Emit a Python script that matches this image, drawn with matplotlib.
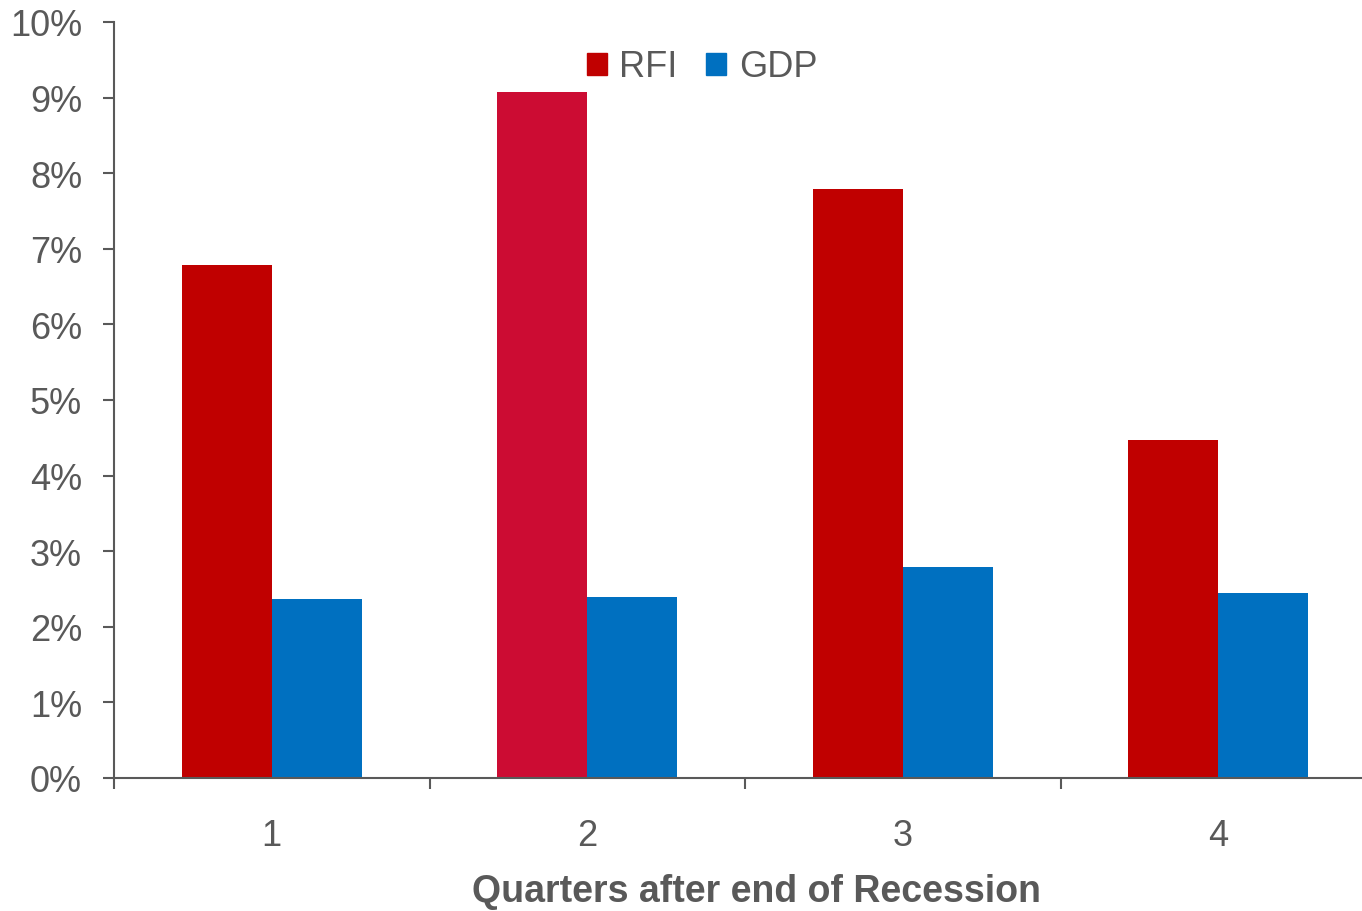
import matplotlib
matplotlib.use("Agg")
import matplotlib.pyplot as plt
import numpy as np
from matplotlib.patches import Patch

quarters = ["1", "2", "3", "4"]
rfi = [6.79, 9.07, 7.79, 4.47]
gdp = [2.37, 2.39, 2.79, 2.45]
rfi_colors = ["#C00000", "#CC0C33", "#C00000", "#C00000"]
gdp_color = "#0070C0"
grey = "#595959"

plt.rcParams['font.family'] = ['Liberation Sans', 'DejaVu Sans']

fig = plt.figure(figsize=(13.62, 9.12), dpi=100)
W, H = 1362, 912
ax = fig.add_axes([114 / W, (H - 779) / H, (1376 - 114) / W, (779 - 23) / H])

x = np.arange(len(quarters))
w = 0.285
ax.bar(x - w / 2, rfi, w, color=rfi_colors, label="RFI")
ax.bar(x + w / 2, gdp, w, color=gdp_color, label="GDP")

ax.set_xlim(-0.5, len(quarters) - 0.5)
ax.set_ylim(0, 10)
ax.set_yticks(range(0, 11))
ax.set_yticklabels([f"{v}%" for v in range(0, 11)])
ax.set_xticks(x)
ax.set_xticklabels(quarters)
ax.set_xticks(np.arange(-0.5, len(quarters), 1), minor=True)

for s in ["top", "right"]:
    ax.spines[s].set_visible(False)
for s in ["left", "bottom"]:
    ax.spines[s].set_color(grey)
    ax.spines[s].set_linewidth(1.5)

ax.tick_params(axis="y", length=8, width=1.5, color=grey, labelcolor=grey,
               labelsize=26, pad=15)
ax.tick_params(axis="x", which="major", length=0, labelcolor=grey,
               labelsize=26, pad=29)
ax.tick_params(axis="x", which="minor", length=8, width=1.5, color=grey)

ax.set_xlabel("Quarters after end of Recession", fontsize=27, fontweight="bold",
              color=grey)
ax.xaxis.label.set_va("center")
ax.xaxis.set_label_coords((757 - 114) / (1376 - 114), -(892 - 779) / (779 - 23))

handles = [Patch(color="#C00000", label="RFI"), Patch(color=gdp_color, label="GDP")]
leg = ax.legend(handles=handles, loc="center",
                bbox_to_anchor=((702 - 114) / (1376 - 114), 1 - (68 - 23) / (779 - 23)),
                ncol=2, frameon=False, fontsize=26, handlelength=0.55, handleheight=0.55,
                handletextpad=0.35, columnspacing=0.8, borderpad=0)
for t in leg.get_texts():
    t.set_color(grey)

fig.savefig("out.png", dpi=100)
